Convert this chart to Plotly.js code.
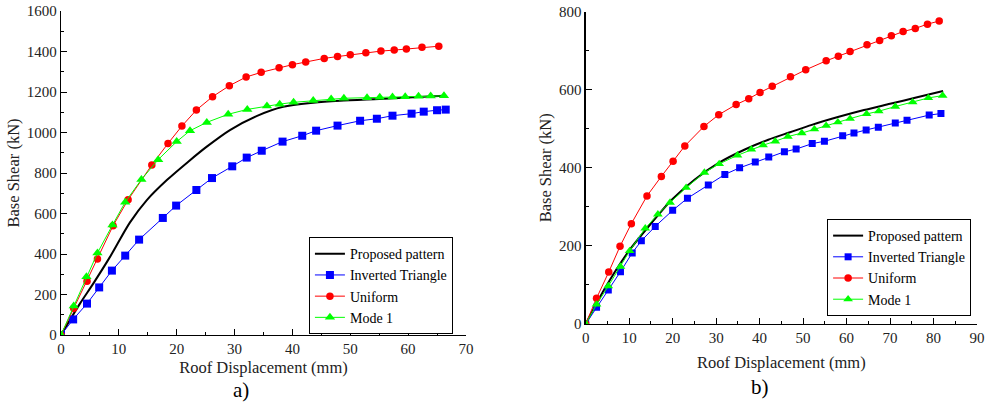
<!DOCTYPE html>
<html>
<head>
<meta charset="utf-8">
<script src="https://cdn.plot.ly/plotly-3.0.1.min.js"></script>
<style>html,body{margin:0;padding:0;background:#fff;}#chart{width:987px;height:405px;}</style>
</head>
<body>
<div id="chart"></div>
<script>
// ---------- Panel a) ----------
const propA_x = [0, 3.3, 5.6, 8.5, 11.9, 14.8, 18.3, 22.0, 25.2, 29.2, 33.8, 38.4, 43.6, 48.2, 55.0, 60.0, 66.2];
const propA_y = [0, 156, 255, 387, 555, 665, 765, 856, 930, 1012, 1081, 1127, 1147, 1157, 1166, 1173, 1182];

const invA_x = [0, 2.1, 4.5, 6.6, 8.8, 11.1, 13.5, 17.6, 19.9, 23.4, 26.1, 29.6, 32.1, 34.7, 38.3, 41.7, 44.1, 47.8, 51.7, 54.6, 57.3, 60.6, 62.7, 65.0, 66.5];
const invA_y = [0, 77, 155, 235, 318, 392, 471, 578, 639, 716, 775, 833, 876, 910, 955, 984, 1009, 1034, 1058, 1068, 1083, 1093, 1103, 1110, 1113];

const uniA_x = [0, 2.2, 4.5, 6.3, 9.0, 11.6, 15.7, 18.5, 20.9, 23.4, 26.2, 29.1, 32.0, 34.6, 37.7, 40.0, 42.3, 45.5, 47.8, 50.0, 52.7, 55.3, 57.6, 59.7, 62.4, 65.3];
const uniA_y = [0, 132, 265, 375, 540, 668, 840, 946, 1032, 1111, 1177, 1231, 1274, 1297, 1320, 1335, 1348, 1366, 1375, 1384, 1394, 1402, 1407, 1412, 1421, 1426];

const modeA_x = [0, 2.2, 4.4, 6.3, 8.9, 11.1, 13.9, 16.8, 20.0, 22.3, 25.2, 28.9, 32.2, 35.6, 37.8, 40.2, 43.6, 46.7, 48.9, 52.9, 55.1, 57.3, 59.5, 61.8, 63.9, 66.2];
const modeA_y = [0, 143, 288, 405, 543, 656, 768, 866, 955, 1009, 1050, 1090, 1114, 1131, 1140, 1149, 1158, 1165, 1169, 1172, 1174, 1175, 1177, 1179, 1180, 1181];

// ---------- Panel b) ----------
const propB_x = [0, 4.4, 9.8, 14.4, 19.8, 25.1, 30.5, 36.6, 42.0, 47.0, 52.0, 58.0, 64.0, 70.0, 76.0, 82.2];
const propB_y = [0, 91, 185, 249, 318, 370, 412, 447, 472, 491, 510, 530, 548, 564, 580, 597];

const invB_x = [0, 2.5, 5.2, 8.0, 10.7, 12.8, 16.0, 20.0, 23.4, 28.2, 32.0, 35.4, 39.0, 42.1, 45.7, 48.4, 52.1, 54.9, 59.1, 61.7, 64.5, 67.3, 71.2, 73.9, 79.0, 81.7];
const invB_y = [0, 43, 87, 134, 182, 213, 250, 291, 322, 356, 383, 400, 415, 428, 441, 448, 462, 468, 482, 489, 497, 504, 515, 522, 535, 539];

const uniB_x = [0, 2.5, 5.3, 7.9, 10.5, 14.1, 17.4, 20.1, 22.8, 27.2, 30.6, 34.6, 37.5, 40.1, 42.9, 47.1, 50.6, 55.3, 58.1, 60.8, 64.7, 67.6, 70.3, 73.0, 75.8, 78.6, 81.3];
const uniB_y = [0, 66, 133, 199, 257, 328, 378, 417, 456, 506, 536, 562, 577, 593, 609, 633, 651, 674, 686, 698, 715, 726, 738, 749, 757, 768, 776];

const modeB_x = [0, 2.5, 5.2, 8.0, 10.1, 13.7, 16.6, 19.4, 23.1, 27.3, 30.7, 34.9, 38.1, 40.8, 43.6, 46.5, 49.7, 52.6, 55.3, 58.0, 60.8, 64.6, 67.4, 71.2, 75.2, 78.8, 82.1];
const modeB_y = [0, 50, 97, 147, 187, 245, 281, 311, 349, 388, 410, 432, 447, 458, 468, 480, 489, 499, 508, 517, 526, 538, 545, 557, 568, 579, 585];

const seriesNames = ["Proposed pattern", "Inverted Triangle", "Uniform", "Mode 1"];
const panelLabels = ["a)", "b)"];
const xTitle = "Roof Displacement (mm)";
const yTitle = "Base Shear (kN)";

const FONT = "Liberation Serif";

function lineTrace(x, y, name, xa, ya, leg) {
  return {x, y, name, xaxis: xa, yaxis: ya, legend: leg, type: "scatter", mode: "lines",
          line: {color: "#000000", width: 2, shape: "spline", smoothing: 0.8}, hoverinfo: "skip"};
}
function markTrace(x, y, name, color, symbol, size, xa, ya, leg) {
  return {x, y, name, xaxis: xa, yaxis: ya, legend: leg, type: "scatter", mode: "lines+markers",
          line: {color: color, width: 1}, marker: {color: color, symbol: symbol, size: size, line: {width: 0}},
          hoverinfo: "skip"};
}

const data = [
  lineTrace(propA_x, propA_y, seriesNames[0], "x", "y", "legend"),
  markTrace(invA_x, invA_y, seriesNames[1], "#0000ff", "square", 8, "x", "y", "legend"),
  markTrace(uniA_x, uniA_y, seriesNames[2], "#ff0000", "circle", 7.5, "x", "y", "legend"),
  markTrace(modeA_x, modeA_y, seriesNames[3], "#00ff00", "triangle-up", 9, "x", "y", "legend"),
  lineTrace(propB_x, propB_y, seriesNames[0], "x2", "y2", "legend2"),
  markTrace(invB_x, invB_y, seriesNames[1], "#0000ff", "square", 7, "x2", "y2", "legend2"),
  markTrace(uniB_x, uniB_y, seriesNames[2], "#ff0000", "circle", 7.5, "x2", "y2", "legend2"),
  markTrace(modeB_x, modeB_y, seriesNames[3], "#00ff00", "triangle-up", 8.5, "x2", "y2", "legend2")
];

const TITLE_FONT = {family: FONT, size: 16.5, color: "#222"};

function axisCommon(extra) {
  return Object.assign({
    showgrid: false, zeroline: false, showline: true, linecolor: "#000", linewidth: 1.3,
    ticks: "inside", ticklen: 6, tickwidth: 1, tickcolor: "#000",
    tickfont: {family: FONT, size: 15, color: "#222"},
    fixedrange: true, mirror: false
  }, extra);
}
const minorX = {ticks: "inside", ticklen: 3, tickwidth: 1, tickcolor: "#000", dtick: 5, showgrid: false};
const minorY = (d) => ({ticks: "inside", ticklen: 3, tickwidth: 1, tickcolor: "#000", dtick: d, showgrid: false});

const legendCommon = {
  bgcolor: "#ffffff", bordercolor: "#000", borderwidth: 1,
  font: {family: FONT, size: 14, color: "#000"},
  xanchor: "left", yanchor: "top", itemwidth: 30, tracegroupgap: 0,
  traceorder: "normal"
};

const layout = {
  width: 987, height: 405,
  margin: {l: 0, r: 0, t: 11, b: 70},
  paper_bgcolor: "#fff", plot_bgcolor: "#fff",
  showlegend: true,
  font: {family: FONT, color: "#222"},
  xaxis: axisCommon({domain: [0.0618, 0.4721], range: [0, 70], dtick: 10, anchor: "y", minor: minorX,
    title: {text: xTitle, font: TITLE_FONT, standoff: 5}}),
  yaxis: axisCommon({domain: [0, 1], range: [0, 1600], dtick: 200, anchor: "x", minor: minorY(100),
    title: {text: yTitle, font: TITLE_FONT, standoff: 3}}),
  xaxis2: axisCommon({domain: [0.5934, 0.9899], range: [0, 90], dtick: 10, anchor: "y2", minor: minorX,
    title: {text: xTitle, font: TITLE_FONT, standoff: 11}}),
  yaxis2: axisCommon({domain: [0.034, 0.998], range: [0, 800], dtick: 200, anchor: "x2", minor: minorY(100),
    title: {text: yTitle, font: TITLE_FONT, standoff: 3}}),
  legend: Object.assign({x: 0.313, y: 0.302}, legendCommon),
  legend2: Object.assign({x: 0.838, y: 0.358}, legendCommon),
  annotations: [
    {text: panelLabels[0], xref: "paper", yref: "paper", x: 0.244, y: -0.17, xanchor: "center", yanchor: "middle",
     showarrow: false, font: {family: FONT, size: 21, color: "#000"}},
    {text: panelLabels[1], xref: "paper", yref: "paper", x: 0.770, y: -0.16, xanchor: "center", yanchor: "middle",
     showarrow: false, font: {family: FONT, size: 21, color: "#000"}}
  ]
};

Plotly.newPlot("chart", data, layout, {staticPlot: true, displayModeBar: false});
</script>
</body>
</html>
